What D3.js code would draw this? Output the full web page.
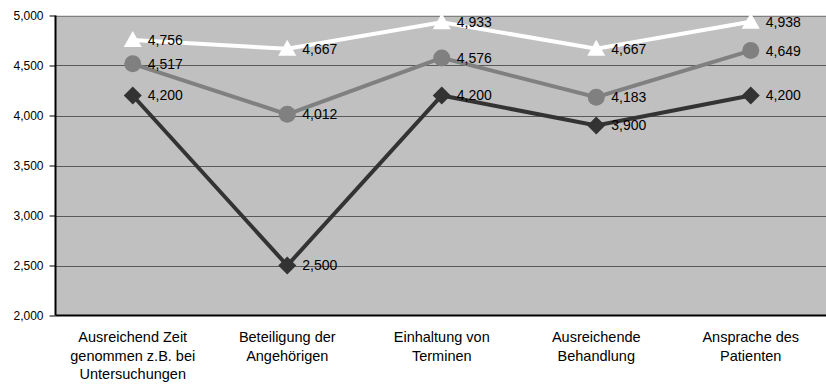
<!DOCTYPE html>
<html>
<head>
<meta charset="utf-8">
<script src="https://cdn.jsdelivr.net/npm/d3@7"></script>
<style>
  html, body { margin: 0; padding: 0; background: #ffffff; }
  svg { display: block; font-family: "Liberation Sans", Arial, sans-serif; }
</style>
</head>
<body>
<svg id="chart" width="826" height="387"></svg>
<script>
// Category labels (line breaks as in the axis)
const categories = [
  ["Ausreichend Zeit", "genommen z.B. bei", "Untersuchungen"],
  ["Beteiligung der", "Angehörigen"],
  ["Einhaltung von", "Terminen"],
  ["Ausreichende", "Behandlung"],
  ["Ansprache des", "Patienten"]
];
const seriesTop = [4.756, 4.667, 4.933, 4.667, 4.938];
const seriesMid = [4.517, 4.012, 4.576, 4.183, 4.649];
const seriesLow = [4.200, 2.500, 4.200, 3.900, 4.200];
const yTicks = [2, 2.5, 3, 3.5, 4, 4.5, 5];

const locale = d3.formatLocale({ decimal: ",", thousands: ".", grouping: [3], currency: ["", " €"] });
const fmt = locale.format(".3f");

const svg = d3.select("#chart");
const plotLeft = 55.5, plotRight = 826, plotTop = 15.5, plotBottom = 315.5;

const x = d3.scaleBand().domain(d3.range(categories.length)).range([plotLeft, plotLeft + 5 * 154.5]);
const y = d3.scaleLinear().domain([2, 5]).range([plotBottom, plotTop]);

// plot background
svg.append("rect").attr("x", plotLeft).attr("y", plotTop)
  .attr("width", plotRight - plotLeft + 10).attr("height", plotBottom - plotTop)
  .attr("fill", "#c0c0c0");

// gridlines
svg.append("g").selectAll("line").data(yTicks.slice(1)).join("line")
  .attr("x1", plotLeft).attr("x2", plotRight + 10)
  .attr("y1", d => Math.round(y(d)) + 0.5).attr("y2", d => Math.round(y(d)) + 0.5)
  .attr("stroke", d => d === 5 ? "#808080" : "#5a5a5a").attr("stroke-width", 1);

// y axis
const yAxis = d3.axisLeft(y).tickValues(yTicks).tickFormat(fmt).tickSize(6).tickPadding(6);
const gy = svg.append("g").attr("transform", `translate(${plotLeft},0)`).call(yAxis);
gy.select(".domain").attr("stroke", "#000").attr("stroke-width", 2).attr("d", `M0,${plotTop}V${plotBottom}`);
gy.selectAll(".tick line").attr("stroke", "#000");
gy.selectAll(".tick text").attr("font-size", 12).attr("fill", "#000")
  .attr("font-family", "Liberation Sans, Arial, sans-serif");

// bottom axis line
svg.append("line").attr("x1", plotLeft).attr("x2", plotRight + 10)
  .attr("y1", plotBottom).attr("y2", plotBottom).attr("stroke", "#000").attr("stroke-width", 2);

// category labels
const cat = svg.append("g").selectAll("text").data(categories).join("text")
  .attr("text-anchor", "middle").attr("font-size", 14.5).attr("fill", "#000")
  .attr("transform", (d, i) => `translate(${x(i) + x.bandwidth() / 2},${plotBottom + 26.5})`);
cat.selectAll("tspan").data(d => d).join("tspan")
  .attr("x", 0).attr("dy", (d, i) => i === 0 ? 0 : 18.5).text(d => d);

const cx = i => x(i) + x.bandwidth() / 2;
const line = d3.line().x((d, i) => cx(i)).y(d => y(d));

const series = [
  { values: seriesLow, color: "#333333", shape: "diamond" },
  { values: seriesMid, color: "#808080", shape: "circle" },
  { values: seriesTop, color: "#ffffff", shape: "triangle" }
];

series.forEach(s => {
  svg.append("path").datum(s.values).attr("d", line)
    .attr("fill", "none").attr("stroke", s.color).attr("stroke-width", 4);
  const g = svg.append("g");
  s.values.forEach((v, i) => {
    const px = cx(i), py = y(v);
    if (s.shape === "diamond") {
      g.append("path").attr("d", `M${px},${py - 9}L${px + 9},${py}L${px},${py + 9}L${px - 9},${py}Z`)
        .attr("fill", s.color);
    } else if (s.shape === "circle") {
      g.append("circle").attr("cx", px).attr("cy", py).attr("r", 8.5).attr("fill", s.color);
    } else {
      g.append("path").attr("d", `M${px},${py - 9}L${px + 9},${py + 7}L${px - 9},${py + 7}Z`)
        .attr("fill", s.color);
    }
    g.append("text").attr("x", px + 15).attr("y", py).attr("dy", "0.35em")
      .attr("font-size", 14).attr("fill", "#000").text(fmt(v));
  });
});
</script>
</body>
</html>
